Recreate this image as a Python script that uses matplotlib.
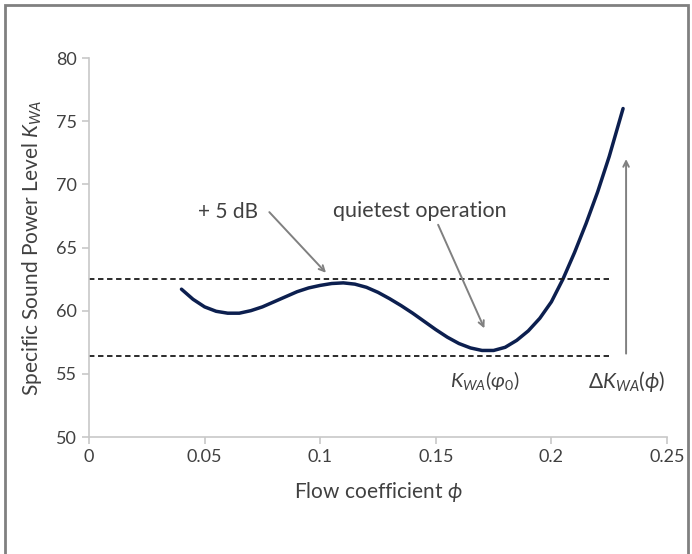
import numpy as np
import matplotlib
matplotlib.use("Agg")
import matplotlib.pyplot as plt
from matplotlib.patches import Rectangle

# K_WA vs flow coefficient
phi = [0.040, 0.045, 0.050, 0.055, 0.060, 0.065, 0.070, 0.075, 0.080, 0.085,
       0.090, 0.095, 0.100, 0.105, 0.110, 0.115, 0.120, 0.125, 0.130, 0.135,
       0.140, 0.145, 0.150, 0.155, 0.160, 0.165, 0.170, 0.175, 0.180, 0.185,
       0.190, 0.195, 0.200, 0.205, 0.210, 0.215, 0.220, 0.225, 0.231]
kwa = [61.7, 60.9, 60.3, 59.95, 59.8, 59.8, 60.0, 60.3, 60.7, 61.1,
       61.5, 61.8, 62.0, 62.15, 62.2, 62.1, 61.85, 61.45, 60.95, 60.4,
       59.8, 59.15, 58.5, 57.9, 57.4, 57.05, 56.85, 56.85, 57.1, 57.65,
       58.4, 59.4, 60.7, 62.5, 64.6, 66.9, 69.4, 72.2, 76.0]

upper_level = 62.5
lower_level = 56.4
dash_end = 0.225

xticks = [0, 0.05, 0.1, 0.15, 0.2, 0.25]
xtick_labels = ['0', '0.05', '0.1', '0.15', '0.2', '0.25']
yticks = [50, 55, 60, 65, 70, 75, 80]

plt.rcParams['font.family'] = ['Lato', 'DejaVu Sans']
plt.rcParams['mathtext.fontset'] = 'custom'
plt.rcParams['mathtext.rm'] = 'Lato'
plt.rcParams['mathtext.it'] = 'Lato:italic'
plt.rcParams['mathtext.fallback'] = 'stixsans'

txt = '#404040'
arrow_col = '#808080'
line_col = '#0c1f4f'

fig = plt.figure(figsize=(6.92, 5.54), dpi=100)
fig.patches.append(Rectangle((5/692, -0.1), 683/692, 1.1 - 5/554, transform=fig.transFigure,
                             fill=False, edgecolor='#808080', linewidth=2))
ax = fig.add_axes([89/692, 117/554, 578/692, 379/554])

ax.plot(phi, kwa, color=line_col, linewidth=2.5, solid_capstyle='round', solid_joinstyle='round')
ax.plot([0, dash_end], [upper_level, upper_level], color='#1a1a1a', linestyle=(0, (3, 2)), linewidth=1.3)
ax.plot([0, dash_end], [lower_level, lower_level], color='#1a1a1a', linestyle=(0, (3, 2)), linewidth=1.3)

ax.set_xlim(0, 0.25)
ax.set_ylim(50, 80)
ax.set_xticks(xticks)
ax.set_xticklabels(xtick_labels)
ax.set_yticks(yticks)

for s in ['top', 'right']:
    ax.spines[s].set_visible(False)
for s in ['left', 'bottom']:
    ax.spines[s].set_color('#c8c8c8')
    ax.spines[s].set_linewidth(1.2)
ax.tick_params(colors='#c8c8c8', labelcolor=txt, labelsize=13, length=5, width=1.2)

ax.set_xlabel(r'Flow coefficient $\phi$', fontsize=15, color=txt, labelpad=11)
ax.set_ylabel(r'Specific Sound Power Level $K_{WA}$', fontsize=15, color=txt, labelpad=9)

ap = dict(arrowstyle='->', color=arrow_col, lw=1.4, shrinkA=0, shrinkB=0)
ax.text(0.060, 67.8, '+ 5 dB', fontsize=15, color=txt, ha='center', va='center')
ax.annotate('', xy=(0.1025, 63.0), xytext=(0.078, 67.8), arrowprops=ap)
ax.text(0.143, 67.9, 'quietest operation', fontsize=15.5, color=txt, ha='center', va='center')
ax.annotate('', xy=(0.171, 58.6), xytext=(0.151, 66.8), arrowprops=ap)
ax.annotate('', xy=(0.2323, 72.0), xytext=(0.2323, 56.6), arrowprops=ap)

ax.text(0.171, 54.5, r'$K_{WA}(\varphi_0)$', fontsize=14.5, color=txt, ha='center', va='center')
ax.text(0.2327, 54.4, r'$\Delta K_{WA}(\phi)$', fontsize=15, color=txt, ha='center', va='center')

fig.savefig('out.png', dpi=100)
